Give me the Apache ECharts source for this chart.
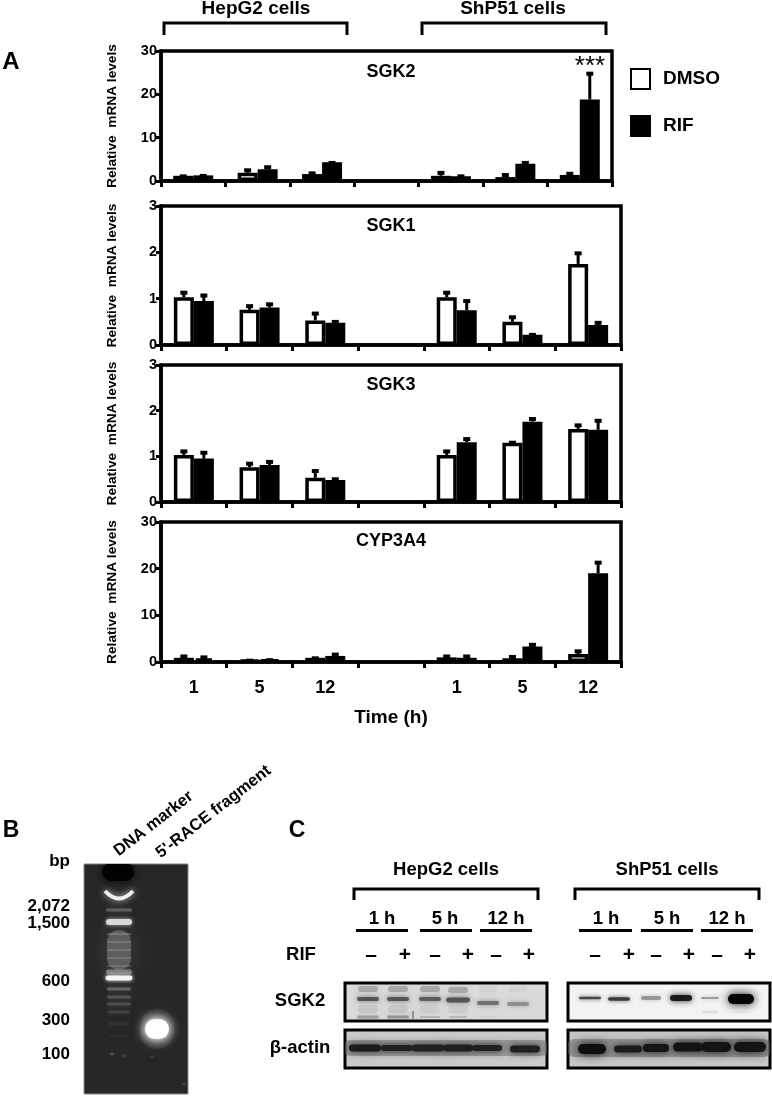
<!DOCTYPE html>
<html><head><meta charset="utf-8">
<style>html,body{margin:0;padding:0;background:#fff}#c{width:772px;height:1096px}</style>
<script src="https://cdn.jsdelivr.net/npm/echarts@6/dist/echarts.min.js"></script>
</head><body><div id="c"></div>
<script>
const timeLabels = ['1','5','12','','1','5','12'];
const panelNames = ['SGK2','SGK1','SGK3','CYP3A4'];
const yMaxes = [30,3,3,30];
const yIntervals = [10,1,1,10];

const sgk2Dmso = [1.2,1.9,1.6,null,1.2,0.9,1.4];
const sgk2DmsoTop = [1.3,2.7,2.0,null,2.1,1.6,1.9];
const sgk2Rif = [1.3,2.7,4.3,null,1.1,4.0,18.8];
const sgk2RifTop = [1.4,3.4,4.4,null,1.3,4.4,25];

const sgk1Dmso = [1.03,0.76,0.53,null,1.03,0.5,1.75];
const sgk1DmsoTop = [1.15,0.86,0.7,null,1.15,0.62,2.0];
const sgk1Rif = [0.95,0.81,0.48,null,0.75,0.22,0.43];
const sgk1RifTop = [1.09,0.9,0.52,null,0.97,0.24,0.5];

const sgk3Dmso = [1.03,0.76,0.53,null,1.03,1.3,1.6];
const sgk3DmsoTop = [1.13,0.86,0.7,null,1.13,1.32,1.7];
const sgk3Rif = [0.95,0.81,0.48,null,1.31,1.76,1.58];
const sgk3RifTop = [1.1,0.9,0.52,null,1.4,1.84,1.8];

const cypDmso = [0.9,0.4,0.9,null,1.0,0.8,1.7];
const cypDmsoTop = [1.4,0.5,1.0,null,1.4,1.3,2.5];
const cypRif = [0.8,0.4,1.3,null,0.9,3.3,19];
const cypRifTop = [1.2,0.6,1.8,null,1.4,3.9,21.5];

// bands: [x, y, width, height, gray, alpha]
const gelBands = [
  [34,8,32,18,0,0.85],
  [35,46,26,3,125,0.6],
  [35,58,26,6,235,0.85],
  [35,86,24,40,130,0.55],
  [35,70,24,2,165,0.35],[35,78,24,2,155,0.35],[35,86,24,2,155,0.35],[35,94,24,2,150,0.35],[35,102,24,2,150,0.35],
  [35,108,26,5,175,0.55],[35,114,27,5,250,0.95],
  [35,125,24,3,120,0.7],[35,133,24,3,100,0.7],[35,140,24,3,90,0.7],[35,148,22,3,75,0.7],[35,160,20,3,60,0.6],[35,172,20,2,50,0.6],
  [28,190,4,3,90,0.7],[40,192,6,3,65,0.7],[68,193,4,2,70,0.6],[100,220,3,2,90,0.7],
  [73,165,34,40,85,0.3],[73,165,24,20,245,1],[73,165,22,18,255,1]
];
const gelArcs = [[21,27,49,32,240]];

const hepSgk2Bands = [
  [23,6,20,6,110,0.4],[53,6,20,6,110,0.4],[85,6,20,6,110,0.4],[113,7,20,6,110,0.4],[143,6,18,6,185,0.25],[173,6,18,6,190,0.25],
  [23,16,22,4,70,0.85],[53,16,22,4,70,0.85],[85,16,22,4,80,0.85],[113,17,24,5,70,0.85],[143,20,22,4,95,0.8],[173,21,22,4,120,0.7],
  [23,26,20,8,170,0.35],[53,26,20,8,170,0.35],[85,26,20,8,180,0.3],[113,26,20,8,175,0.3],
  [23,34,22,3,110,0.5],[53,34,22,3,95,0.5],[85,34,20,2,130,0.4],[113,34,18,2,140,0.4],[143,34,18,2,190,0.3],
  [68,32,1.5,8,60,0.6]
];
const shpSgk2Bands = [
  [22,15,22,2.5,50,0.85],[51,16,22,3.5,40,0.85],[83,15,20,4,125,0.7],[113,15,22,6,20,0.95],
  [142,15,18,2,120,0.65],[173,16,26,10,5,1],[142,29,16,1.5,190,0.5],[173,29,16,1.5,200,0.4]
];
const hepActinBands = [
  [101,18,206,16,110,0.5],
  [20,18,32,7,25,0.95],[52,18,32,6,30,0.95],[83,18,32,7,30,0.95],[113,18,30,7,30,0.95],[142,18,30,6,30,0.95],[180,19,30,7,30,0.95]
];
const shpActinBands = [
  [101,18,206,18,100,0.5],
  [24,19,28,10,15,1],[60,19,28,7,25,0.95],[88,18,26,8,20,1],[120,17,30,9,20,1],[148,17,30,10,20,1],[182,17,32,10,20,1]
];

const series = [], grids = [], xAxes = [], yAxes = [];
const BOLD = '"Liberation Sans", Arial, sans-serif';
const barW = 20;
const panelData = [
  [sgk2Dmso,sgk2DmsoTop,sgk2Rif,sgk2RifTop],
  [sgk1Dmso,sgk1DmsoTop,sgk1Rif,sgk1RifTop],
  [sgk3Dmso,sgk3DmsoTop,sgk3Rif,sgk3RifTop],
  [cypDmso,cypDmsoTop,cypRif,cypRifTop]
];
const panelBoxes = [
  {left:161,top:51,width:451,height:130},
  {left:161,top:206,width:460,height:139},
  {left:161,top:365,width:460,height:137},
  {left:161,top:522,width:460,height:140}
];

function errorRender(offset){
  return function(params, api){
    const top = api.value(1);
    if (top == null || isNaN(top)) return;
    const base = api.coord([api.value(0), api.value(2)]);
    const tip = api.coord([api.value(0), top]);
    const x = base[0] + offset;
    return {type:'group', children:[
      {type:'line', shape:{x1:x,y1:base[1],x2:x,y2:tip[1]}, style:{stroke:'#000',lineWidth:3}},
      {type:'line', shape:{x1:x-3.5,y1:tip[1]+1,x2:x+3.5,y2:tip[1]+1}, style:{stroke:'#000',lineWidth:4}}
    ]};
  };
}

panelData.forEach((d,i)=>{
  grids.push(Object.assign({show:true,borderColor:'#000',borderWidth:3.5,backgroundColor:'transparent'},panelBoxes[i]));
  xAxes.push({
    type:'category',gridIndex:i,data:timeLabels,
    axisLine:{lineStyle:{color:'#000',width:3.5}},
    axisTick:{show:true,length:6,lineStyle:{color:'#000',width:3},alignWithLabel:false},
    axisLabel:{show:i===3,fontFamily:BOLD,fontWeight:'bold',fontSize:18,color:'#000',margin:17,interval:0},
    name:i===3?'Time (h)':'',nameLocation:'middle',nameGap:46,
    nameTextStyle:{fontFamily:BOLD,fontWeight:'bold',fontSize:19,color:'#000'}
  });
  yAxes.push({
    type:'value',gridIndex:i,min:0,max:yMaxes[i],interval:yIntervals[i],
    axisLine:{show:true,lineStyle:{color:'#000',width:3.5}},
    axisTick:{show:true,length:5,lineStyle:{color:'#000',width:3}},
    splitLine:{show:false},
    axisLabel:{fontFamily:BOLD,fontWeight:'bold',fontSize:14.5,color:'#000',margin:4},
    name:'Relative  mRNA levels',nameLocation:'middle',nameRotate:90,nameGap:42,
    nameTextStyle:{fontFamily:BOLD,fontWeight:'bold',fontSize:13.7,color:'#000'}
  });
  [[d[0],d[1],-barW/2],[d[2],d[3],barW/2]].forEach(([vals,tops,off])=>{
    series.push({
      type:'custom',xAxisIndex:i,yAxisIndex:i,silent:true,z:1,
      renderItem:errorRender(off),
      encode:{x:0,y:1},
      data:tops.map((t,k)=>[k,t,vals[k]])
    });
  });
  series.push({type:'bar',name:'DMSO',xAxisIndex:i,yAxisIndex:i,data:d[0],barWidth:barW,barGap:'0%',z:2,
    itemStyle:{color:'#fff',borderColor:'#000',borderWidth:3.5}});
  series.push({type:'bar',name:'RIF',xAxisIndex:i,yAxisIndex:i,data:d[2],barWidth:barW,barGap:'0%',z:2,
    itemStyle:{color:'#000',borderColor:'#000',borderWidth:4}});
});

function bandRender(blurPx, blurFactor){
  return function(params, api){
    const c = api.coord([api.value(0),api.value(1)]);
    const s = api.size([api.value(2),api.value(3)]);
    const g = api.value(4), a = api.value(5);
    const col = `rgba(${g},${g},${g},${a})`;
    return {type:'rect',shape:{x:c[0]-s[0]/2,y:c[1]-s[1]/2,width:s[0],height:s[1],r:Math.min(s[0],s[1])*0.49},
      style:{fill:col,shadowBlur:Math.max(blurPx,s[1]*blurFactor),shadowColor:col}};
  };
}
function arcRender(params, api){
  const a = api.coord([api.value(0),api.value(1)]);
  const b = api.coord([api.value(2),api.value(1)]);
  const c = api.coord([api.value(0)+ (api.value(2)-api.value(0))/2,api.value(3)]);
  const g = api.value(4);
  return {type:'bezierCurve',shape:{x1:a[0],y1:a[1],x2:b[0],y2:b[1],cpx1:c[0],cpy1:c[1]+10},
    style:{fill:'none',stroke:`rgb(${g},${g},${g})`,lineWidth:4,shadowBlur:7,shadowColor:'#ccc'}};
}

function addImagePanel(box,bg,bordered,xMax,yMax,bands,blurPx,blurFactor,arcs){
  const i = grids.length;
  grids.push(Object.assign({show:true,backgroundColor:bg,borderColor:bordered?'#000':'#888',borderWidth:bordered?3:1},box));
  xAxes.push({type:'value',gridIndex:i,min:0,max:xMax,show:false});
  yAxes.push({type:'value',gridIndex:i,min:0,max:yMax,inverse:true,show:false});
  series.push({type:'custom',xAxisIndex:i,yAxisIndex:i,silent:true,clip:true,coordinateSystem:'cartesian2d',
    renderItem:bandRender(blurPx,blurFactor),encode:{x:0,y:1},data:bands});
  if (arcs) series.push({type:'custom',xAxisIndex:i,yAxisIndex:i,silent:true,clip:true,
    renderItem:arcRender,encode:{x:0,y:1},data:arcs});
}
addImagePanel({left:84,top:864,width:104,height:230},'#272727',false,104,230,gelBands,4,0.6,gelArcs);
addImagePanel({left:345,top:983,width:202,height:38},'#dadada',true,202,38,hepSgk2Bands,5,1);
addImagePanel({left:568,top:983,width:202,height:38},'#f3f3f3',true,202,38,shpSgk2Bands,4,1);
addImagePanel({left:345,top:1030,width:202,height:38},'#d0d0d0',true,202,38,hepActinBands,5,1);
addImagePanel({left:568,top:1030,width:202,height:38},'#cdcdcd',true,202,38,shpActinBands,5,1);

const txt=(text,x,y,size,align,extra)=>Object.assign({type:'text',x,y,z:100,silent:true,
  style:{text,fontFamily:BOLD,fontWeight:'bold',fontSize:size,fill:'#000',textAlign:align||'center',textVerticalAlign:'middle'}},extra||{});
const bracket=(x1,x2,y1,y2,w)=>({type:'polyline',z:100,silent:true,shape:{points:[[x1,y2],[x1,y1],[x2,y1],[x2,y2]]},style:{stroke:'#000',lineWidth:w,fill:'none'}});
const seg=(x1,x2,y,w)=>({type:'line',z:100,silent:true,shape:{x1,y1:y,x2,y2:y},style:{stroke:'#000',lineWidth:w}});

const gelLabels = ['bp','2,072','1,500','600','300','100'];
const blotTimes = ['1 h','5 h','12 h','1 h','5 h','12 h'];
const rifSigns = ['–','+','–','+','–','+','–','+','–','+','–','+'];
const gelLabelY = [861,906,923,981,1020,1054];
const timeX = [382,445,506,606,667,727];
const timeSegs = [[356,408],[420,472],[480,532],[579,632],[641,693],[701,753]];
const signX = [371,405,435,468,496,529,595,629,656,689,717,750];
const titleY = [72,226,385,541];

const elems = [
  bracket(164,347,23,35,3),bracket(422,606,23,35,3),
  txt('HepG2 cells',256,9,19),txt('ShP51 cells',513,9,19),
  txt('A',11,62,24),txt('B',11,831,23),txt('C',297,831,23),
  {type:'text',x:590,y:67,z:100,silent:true,style:{text:'***',fontFamily:BOLD,fontSize:26,fill:'#000',textAlign:'center',textVerticalAlign:'middle'}},
  txt('DNA marker',116,853,16.5,'left',{rotation:0.66}),
  txt("5'-RACE fragment",158,855,16.5,'left',{rotation:0.66}),
  bracket(354,538,889,900,3),bracket(575,759,889,900,3),
  txt('HepG2 cells',446,870,18.5),txt('ShP51 cells',667,870,18.5),
  txt('RIF',301,955,18.5),txt('SGK2',300,1001,18.5),
  {type:'text',x:300,y:1048,z:100,silent:true,style:{text:'β-actin',fontFamily:BOLD,fontSize:18.5,fontWeight:'bold',fill:'#000',textAlign:'center',textVerticalAlign:'middle'}}
];
panelNames.forEach((t,k)=>elems.push(txt(t,391,titleY[k],18)));
gelLabels.forEach((t,k)=>elems.push(txt(t,70,gelLabelY[k],17,'right')));
blotTimes.forEach((t,k)=>{elems.push(txt(t,timeX[k],919,18.5));elems.push(seg(timeSegs[k][0],timeSegs[k][1],930.5,3));});
rifSigns.forEach((t,k)=>elems.push(txt(t,signX[k],955,21)));

const chart = echarts.init(document.getElementById('c'),null,{renderer:'canvas'});
chart.setOption({
  animation:false,backgroundColor:'#fff',
  legend:{data:[{name:'DMSO',icon:'rect'},{name:'RIF',icon:'rect'}],orient:'vertical',left:625,top:63,itemWidth:19,itemHeight:20,itemGap:25,
    textStyle:{fontFamily:BOLD,fontWeight:'bold',fontSize:19,color:'#000',padding:[0,0,0,8]},selectedMode:false},
  grid:grids,xAxis:xAxes,yAxis:yAxes,series,
  graphic:{elements:elems}
});
</script></body></html>
